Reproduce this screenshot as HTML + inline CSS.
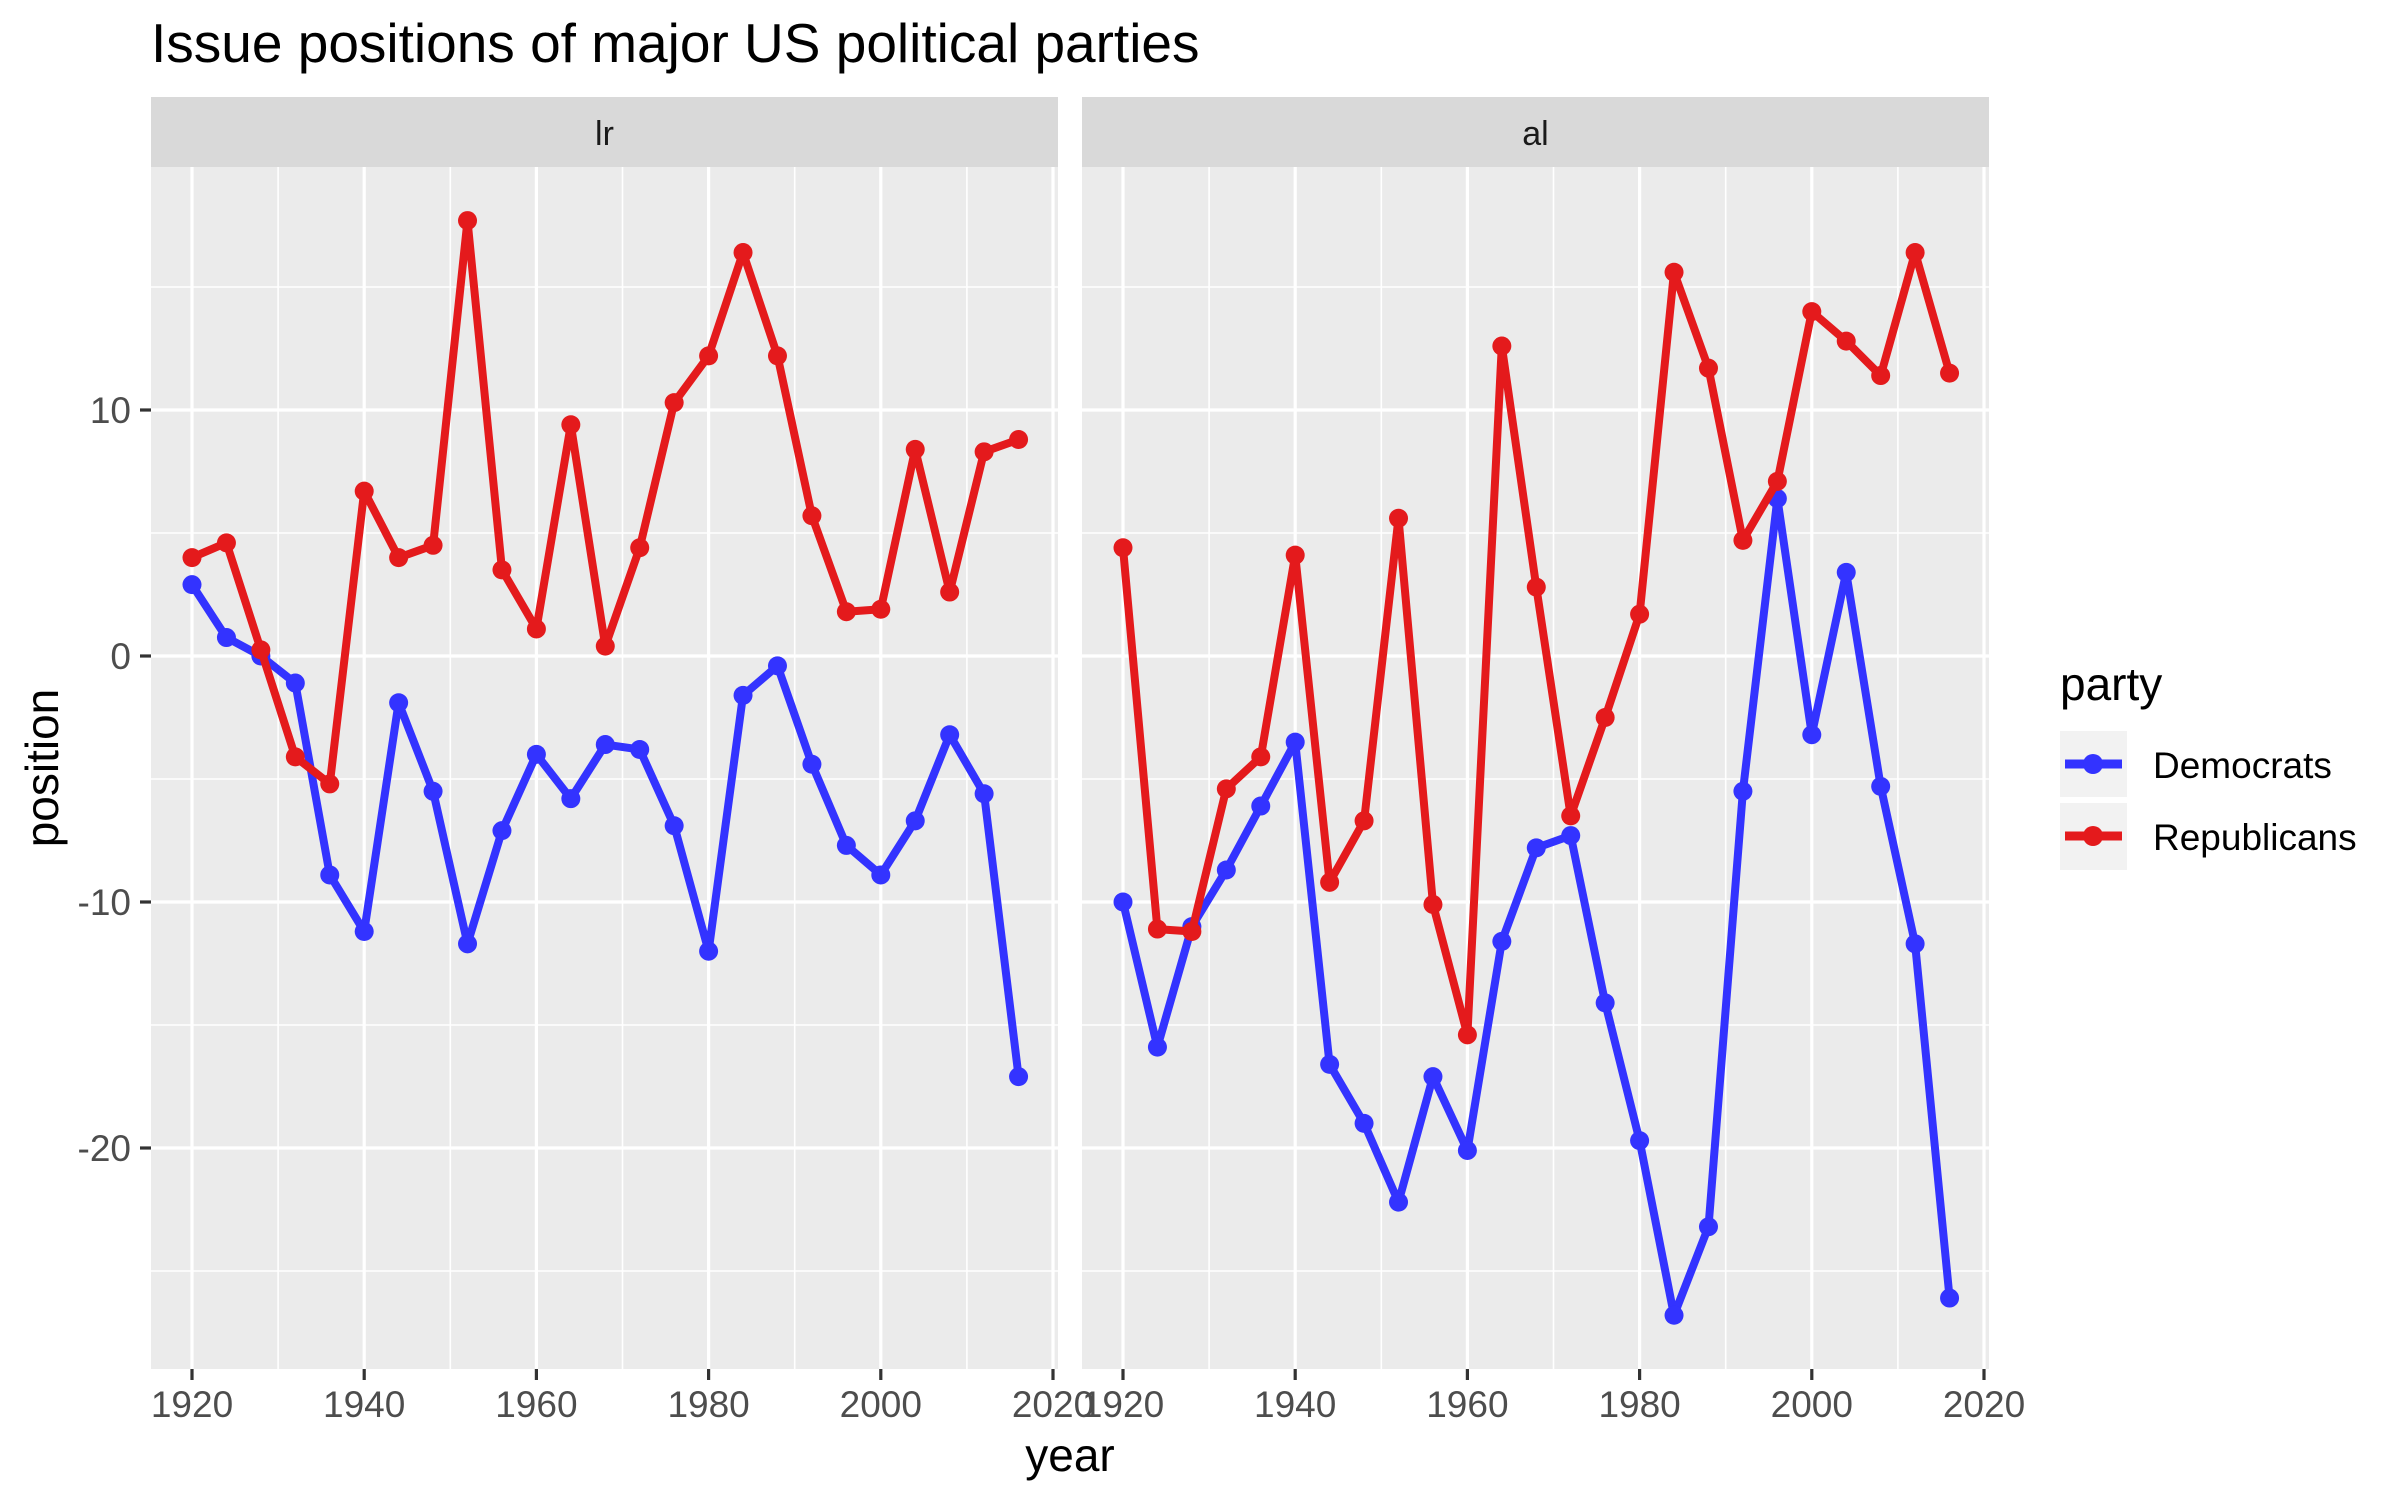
<!DOCTYPE html>
<html><head><meta charset="utf-8"><style>
html,body{margin:0;padding:0;background:#fff;}
svg{display:block;font-family:"Liberation Sans",Arial,sans-serif;}
</style></head><body>
<svg id="chart" width="2400" height="1500" viewBox="0 0 2400 1500" xmlns="http://www.w3.org/2000/svg">
<text x="151" y="62" font-size="55" fill="#000">Issue positions of major US political parties</text>
<g id="panels"></g>
<text x="1070" y="1471" font-size="46" text-anchor="middle" fill="#000">year</text>
<text transform="translate(58,768) rotate(-90)" font-size="46" text-anchor="middle" fill="#000">position</text>
<g>
<text x="2060" y="700" font-size="46" fill="#000">party</text>
<g>
<rect x="2060" y="731" width="67" height="66" fill="#f2f2f2"/>
<line x1="2065" y1="764" x2="2122" y2="764" stroke="#3333FF" stroke-width="9"/>
<circle cx="2093" cy="764" r="10" fill="#3333FF"/>
<text x="2153" y="778" font-size="37" fill="#000">Democrats</text>
</g>
<g>
<rect x="2060" y="803" width="67" height="67" fill="#f2f2f2"/>
<line x1="2065" y1="836" x2="2122" y2="836" stroke="#E41A1C" stroke-width="9"/>
<circle cx="2093" cy="836" r="10" fill="#E41A1C"/>
<text x="2153" y="850" font-size="37" fill="#000">Republicans</text>
</g>
</g>
</svg>
<script>
const years = [1920,1924,1928,1932,1936,1940,1944,1948,1952,1956,1960,1964,1968,1972,1976,1980,1984,1988,1992,1996,2000,2004,2008,2012,2016];
const lrRep = [4.0,4.6,0.25,-4.1,-5.2,6.7,4.0,4.5,17.7,3.5,1.1,9.4,0.4,4.4,10.3,12.2,16.4,12.2,5.7,1.8,1.9,8.4,2.6,8.3,8.8];
const lrDem = [2.9,0.75,0,-1.1,-8.9,-11.2,-1.9,-5.5,-11.7,-7.1,-4.0,-5.8,-3.6,-3.8,-6.9,-12.0,-1.6,-0.4,-4.4,-7.7,-8.9,-6.7,-3.2,-5.6,-17.1];
const alRep = [4.4,-11.1,-11.2,-5.4,-4.1,4.1,-9.2,-6.7,5.6,-10.1,-15.4,12.6,2.8,-6.5,-2.5,1.7,15.6,11.7,4.7,7.1,14.0,12.8,11.4,16.4,11.5];
const alDem = [-10.0,-15.9,-11.0,-8.7,-6.1,-3.5,-16.6,-19.0,-22.2,-17.1,-20.1,-11.6,-7.8,-7.3,-14.1,-19.7,-26.8,-23.2,-5.5,6.4,-3.2,3.4,-5.3,-11.7,-26.1];
const panelNames = ["lr","al"];
const xTicks = [1920,1940,1960,1980,2000,2020];
const xMinor = [1930,1950,1970,1990,2010];
const yTicks = [10,0,-10,-20];
const yMinor = [15,5,-5,-15,-25];

const NS="http://www.w3.org/2000/svg";
const g=document.getElementById('panels');
function mk(tag,attrs,parent){const e=document.createElementNS(NS,tag);for(const k in attrs)e.setAttribute(k,attrs[k]);(parent||g).appendChild(e);return e;}
const plotTop=167,plotBottom=1369;
function yScale(v){return 656 - v*24.6;}
const panels=[{left:151,right:1058,x0:192,data:[lrDem,lrRep]},{left:1082,right:1989,x0:1123,data:[alDem,alRep]}];
const pxPerYear=8.61;
const colors=["#3333FF","#E41A1C"];
const seriesNames=["democrats","republicans"];
panels.forEach((p,pi)=>{
  const x=v=>p.x0+(v-1920)*pxPerYear;
  const pg=mk('g',{});
  
  
  const strip=mk('rect',{x:p.left,y:97,width:p.right-p.left,height:70,fill:'#d9d9d9'},pg);
  
  
  const st=mk('text',{x:(p.left+p.right)/2,y:145,'font-size':34,'text-anchor':'middle',fill:'#1a1a1a'},pg);
  st.textContent=panelNames[pi];
  
  
  const bg=mk('rect',{x:p.left,y:plotTop,width:p.right-p.left,height:plotBottom-plotTop,fill:'#ebebeb'},pg);
  
  
  yMinor.forEach(v=>{const l=mk('line',{x1:p.left,x2:p.right,y1:yScale(v),y2:yScale(v),stroke:'#fff','stroke-width':1.6},pg);});
  xMinor.forEach(v=>{const l=mk('line',{x1:x(v),x2:x(v),y1:plotTop,y2:plotBottom,stroke:'#fff','stroke-width':1.6},pg);});
  yTicks.forEach(v=>{const l=mk('line',{x1:p.left,x2:p.right,y1:yScale(v),y2:yScale(v),stroke:'#fff','stroke-width':3.2},pg);});
  xTicks.forEach(v=>{
    const l=mk('line',{x1:x(v),x2:x(v),y1:plotTop,y2:plotBottom,stroke:'#fff','stroke-width':3.2},pg);
    
    
    const t=mk('line',{x1:x(v),x2:x(v),y1:plotBottom,y2:plotBottom+11,stroke:'#333','stroke-width':3.2},pg);
    
    
    const tl=mk('text',{x:x(v),y:1417,'font-size':37,'text-anchor':'middle',fill:'#4d4d4d'},pg);
    tl.textContent=v;
    
    
  });
  if(pi===0){
    yTicks.forEach(v=>{
      const t=mk('line',{x1:p.left-11,x2:p.left,y1:yScale(v),y2:yScale(v),stroke:'#333','stroke-width':3.2},pg);
      
      
      const tl=mk('text',{x:p.left-20,y:yScale(v)+13,'font-size':37,'text-anchor':'end',fill:'#4d4d4d'},pg);
      tl.textContent=v;
      
      
    });
  }
  p.data.forEach((arr,si)=>{
    const pts=arr.map((v,i)=>x(years[i]).toFixed(1)+','+yScale(v).toFixed(1)).join(' ');
    const pl=mk('polyline',{points:pts,fill:'none',stroke:colors[si],'stroke-width':8,'stroke-linejoin':'round'},pg);
    
    
    arr.forEach((v,i)=>{
      const c=mk('circle',{cx:x(years[i]),cy:yScale(v),r:9.5,fill:colors[si]},pg);
      
      
    });
  });
});
</script>
</body></html>
